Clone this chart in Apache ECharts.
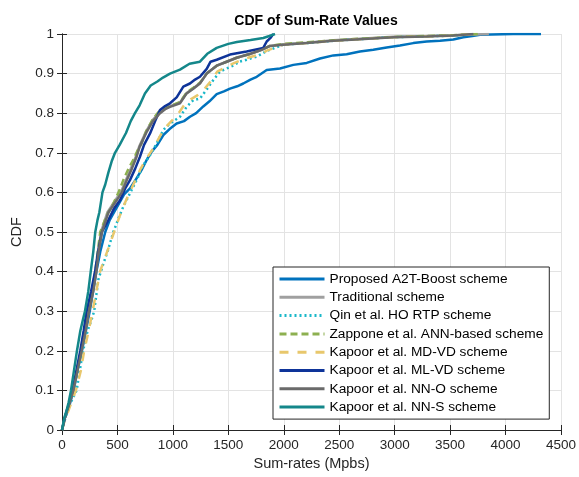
<!DOCTYPE html>
<html>
<head>
<meta charset="utf-8">
<script src="https://cdn.jsdelivr.net/npm/echarts@6/dist/echarts.min.js"></script>
<style>
  html, body { margin: 0; padding: 0; background: #fff; }
  #chart { width: 579px; height: 477px; }
</style>
</head>
<body>
<div id="chart"></div>
<script>
// tick labels
var xTicks = [0, 500, 1000, 1500, 2000, 2500, 3000, 3500, 4000, 4500];
var yTicks = [0, 0.1, 0.2, 0.3, 0.4, 0.5, 0.6, 0.7, 0.8, 0.9, 1];

var seriesNames = [
  'Proposed A2T-Boost scheme',
  'Traditional scheme',
  'Qin et al. HO RTP scheme',
  'Zappone et al. ANN-based scheme',
  'Kapoor et al. MD-VD scheme',
  'Kapoor et al. ML-VD scheme',
  'Kapoor et al. NN-O scheme',
  'Kapoor et al. NN-S scheme'
];

// [sum-rate (Mpbs), CDF]
var a2tCurve = [[0,0],[25,0.03],[50,0.05],[75,0.07],[105,0.1],[140,0.15],[180,0.2],[215,0.25],[250,0.3],[280,0.35],[310,0.4],[345,0.45],[390,0.5],[430,0.53],[470,0.55],[520,0.575],[560,0.595],[613,0.61],[660,0.63],[718,0.657],[760,0.68],[809,0.703],[860,0.72],[914,0.745],[970,0.76],[1034,0.774],[1100,0.78],[1154,0.791],[1210,0.8],[1274,0.817],[1330,0.83],[1395,0.848],[1460,0.855],[1515,0.862],[1580,0.868],[1635,0.875],[1700,0.885],[1756,0.892],[1846,0.909],[1966,0.913],[2086,0.922],[2207,0.927],[2327,0.938],[2447,0.946],[2567,0.949],[2687,0.956],[2807,0.96],[2928,0.966],[3048,0.971],[3168,0.977],[3289,0.981],[3409,0.983],[3529,0.986],[3619,0.992],[3700,0.995],[3770,0.998],[4070,1],[4320,1]];
var tradCurve = [[0,0],[25,0.03],[47,0.05],[70,0.07],[100,0.1],[138,0.15],[174,0.2],[210,0.25],[240,0.3],[278,0.35],[306,0.4],[327,0.45],[352,0.5],[410,0.55],[480,0.58],[530,0.6],[575,0.63],[620,0.66],[665,0.69],[695,0.715],[760,0.755],[815,0.782],[880,0.802],[930,0.811],[974,0.818],[1064,0.827],[1124,0.851],[1184,0.863],[1244,0.876],[1305,0.9],[1395,0.92],[1485,0.93],[1575,0.94],[1700,0.95],[1800,0.96],[1876,0.97],[1996,0.974],[2207,0.978],[2447,0.984],[2687,0.988],[2988,0.993],[3289,0.995],[3529,0.997],[3850,1]];
var qinCurve = [[0,0],[30,0.03],[55,0.05],[80,0.07],[132,0.1],[160,0.15],[190,0.2],[230,0.25],[268,0.28],[290,0.3],[328,0.38],[373,0.42],[410,0.45],[463,0.5],[510,0.535],[553,0.564],[590,0.585],[628,0.606],[688,0.64],[733,0.669],[794,0.694],[854,0.724],[884,0.741],[914,0.758],[974,0.774],[1064,0.791],[1124,0.816],[1184,0.833],[1244,0.837],[1305,0.86],[1365,0.884],[1425,0.905],[1485,0.913],[1545,0.92],[1600,0.93],[1665,0.935],[1756,0.943],[1846,0.957],[1996,0.973],[2207,0.977],[2447,0.983],[2687,0.987],[2988,0.992],[3289,0.994],[3529,0.996],[3710,1]];
var zapCurve = [[0,0],[25,0.03],[45,0.05],[68,0.07],[98,0.1],[135,0.15],[170,0.2],[205,0.25],[235,0.3],[270,0.35],[300,0.4],[322,0.45],[345,0.5],[400,0.54],[463,0.572],[510,0.6],[553,0.631],[600,0.66],[643,0.682],[680,0.705],[718,0.724],[760,0.755],[820,0.785],[870,0.803],[930,0.813],[974,0.818],[1064,0.828],[1124,0.852],[1184,0.864],[1244,0.877],[1305,0.9],[1395,0.92],[1485,0.93],[1575,0.94],[1700,0.95],[1800,0.96],[1876,0.97],[1996,0.975],[2207,0.979],[2447,0.984],[2687,0.988],[2988,0.992],[3289,0.995],[3529,0.997],[3750,1]];
var mdvdCurve = [[0,0],[30,0.03],[60,0.05],[85,0.07],[125,0.1],[170,0.15],[200,0.2],[240,0.25],[276,0.3],[343,0.4],[380,0.43],[420,0.46],[470,0.5],[520,0.54],[570,0.575],[610,0.6],[660,0.63],[710,0.66],[760,0.685],[820,0.71],[870,0.735],[920,0.76],[980,0.778],[1040,0.795],[1100,0.82],[1160,0.835],[1220,0.845],[1280,0.86],[1340,0.88],[1400,0.905],[1470,0.915],[1540,0.925],[1620,0.935],[1700,0.942],[1800,0.95],[1846,0.958],[1996,0.973],[2207,0.977],[2447,0.983],[2687,0.987],[2988,0.992],[3289,0.994],[3529,0.996],[3710,1]];
var mlvdCurve = [[0,0],[25,0.03],[45,0.05],[68,0.07],[95,0.1],[130,0.15],[165,0.2],[195,0.25],[222,0.3],[262,0.35],[298,0.4],[325,0.45],[360,0.5],[418,0.53],[470,0.56],[523,0.58],[570,0.61],[613,0.631],[660,0.66],[703,0.69],[740,0.72],[794,0.749],[840,0.78],[884,0.808],[930,0.818],[974,0.825],[1034,0.84],[1094,0.867],[1154,0.875],[1200,0.885],[1244,0.892],[1305,0.912],[1340,0.93],[1395,0.935],[1515,0.948],[1665,0.956],[1815,0.965],[1846,0.981],[1880,0.99],[1905,1]];
var nnoCurve = [[0,0],[25,0.03],[48,0.05],[70,0.07],[102,0.1],[140,0.15],[177,0.2],[213,0.25],[243,0.3],[282,0.35],[310,0.4],[330,0.45],[360,0.5],[420,0.55],[493,0.58],[540,0.6],[583,0.63],[630,0.66],[673,0.69],[700,0.715],[764,0.753],[820,0.78],[884,0.8],[930,0.81],[974,0.816],[1064,0.825],[1124,0.85],[1184,0.862],[1244,0.875],[1305,0.9],[1395,0.92],[1485,0.93],[1575,0.94],[1700,0.95],[1800,0.96],[1876,0.97],[1996,0.973],[2207,0.977],[2447,0.983],[2687,0.987],[2988,0.992],[3289,0.994],[3529,0.996],[3710,1]];
var nnsCurve = [[0,0],[20,0.03],[42,0.05],[60,0.07],[81,0.1],[108,0.15],[135,0.2],[165,0.25],[190,0.28],[207,0.3],[237,0.35],[259,0.4],[282,0.45],[300,0.5],[320,0.53],[337,0.55],[365,0.6],[390,0.62],[418,0.65],[450,0.68],[478,0.7],[520,0.72],[577,0.75],[620,0.78],[658,0.8],[700,0.82],[748,0.85],[800,0.87],[860,0.88],[911,0.89],[974,0.9],[1064,0.91],[1150,0.925],[1244,0.93],[1310,0.95],[1395,0.965],[1500,0.975],[1577,0.98],[1700,0.985],[1815,0.99],[1870,0.995],[1921,1]];

var curves = [a2tCurve, tradCurve, qinCurve, zapCurve, mdvdCurve, mlvdCurve, nnoCurve, nnsCurve];
var colors = ['#0072BD', '#A0A0A0', '#1BB8C9', '#8DB050', '#E8C76C', '#0E3499', '#6A6A6A', '#14878A'];
var dashes = ['solid', 'solid', [2, 3], [7, 4], [9, 9], 'solid', 'solid', 'solid'];

var myChart = echarts.init(document.getElementById('chart'));
var font = 'Liberation Sans, Arial, Helvetica, sans-serif';
var axisColor = '#262626';

var series = [];
for (var i = 0; i < curves.length; i++) {
  series.push({
    name: seriesNames[i],
    type: 'line',
    data: curves[i],
    symbol: 'none',
    showSymbol: false,
    smooth: false,
    animation: false,
    lineStyle: { color: colors[i], width: 2.5, type: dashes[i] },
    itemStyle: { color: colors[i] }
  });
}

var option = {
  backgroundColor: '#fff',
  animation: false,
  title: {
    text: 'CDF of Sum-Rate Values',
    left: 311, top: 9, textAlign: 'center',
    textStyle: { fontFamily: font, fontSize: 14, fontWeight: 'bold', color: '#000' }
  },
  grid: { left: 62, right: 18, top: 34, bottom: 47 },
  legend: {
    orient: 'vertical',
    left: 273, top: 267,
    padding: [5, 6, 5, 5],
    itemWidth: 45, itemHeight: 14, itemGap: 4.3,
    backgroundColor: '#fff',
    borderColor: axisColor, borderWidth: 1,
    itemStyle: { opacity: 0 },
    lineStyle: { width: 3 },
    textStyle: { fontFamily: font, fontSize: 13.7, color: '#000' },
    data: seriesNames
  },
  xAxis: [{
    type: 'value', min: 0, max: 4500, interval: 500,
    name: 'Sum-rates (Mpbs)', nameLocation: 'middle', nameGap: 24,
    nameTextStyle: { fontFamily: font, fontSize: 14.5, color: axisColor },
    axisLine: { show: true, lineStyle: { color: axisColor, width: 1 } },
    axisTick: { show: true, inside: true, length: 5, lineStyle: { color: axisColor } },
    axisLabel: { fontFamily: font, fontSize: 13.5, color: axisColor, margin: 8,
      formatter: function (v) { return xTicks.indexOf(v) >= 0 ? String(v) : ''; } },
    splitLine: { show: true, lineStyle: { color: '#E3E3E3', width: 1 } }
  }, {
    type: 'value', min: 0, max: 4500, interval: 500, position: 'top',
    axisLine: { show: true, lineStyle: { color: axisColor, width: 1 } },
    axisTick: { show: true, inside: true, length: 5, lineStyle: { color: axisColor } },
    axisLabel: { show: false }, splitLine: { show: false }
  }],
  yAxis: [{
    type: 'value', min: 0, max: 1, interval: 0.1,
    name: 'CDF', nameLocation: 'middle', nameGap: 34,
    nameTextStyle: { fontFamily: font, fontSize: 14.5, color: axisColor },
    axisLine: { show: true, lineStyle: { color: axisColor, width: 1 } },
    axisTick: { show: true, inside: true, length: 5, lineStyle: { color: axisColor } },
    axisLabel: { fontFamily: font, fontSize: 13.5, color: axisColor, margin: 8,
      formatter: function (v) { return String(Math.round(v * 10) / 10); } },
    splitLine: { show: true, lineStyle: { color: '#E3E3E3', width: 1 } }
  }, {
    type: 'value', min: 0, max: 1, interval: 0.1, position: 'right',
    axisLine: { show: true, lineStyle: { color: axisColor, width: 1 } },
    axisTick: { show: true, inside: true, length: 5, lineStyle: { color: axisColor } },
    axisLabel: { show: false }, splitLine: { show: false }
  }],
  series: series
};

myChart.setOption(option);
window.addEventListener('resize', function () { myChart.resize(); });
</script>
</body>
</html>
